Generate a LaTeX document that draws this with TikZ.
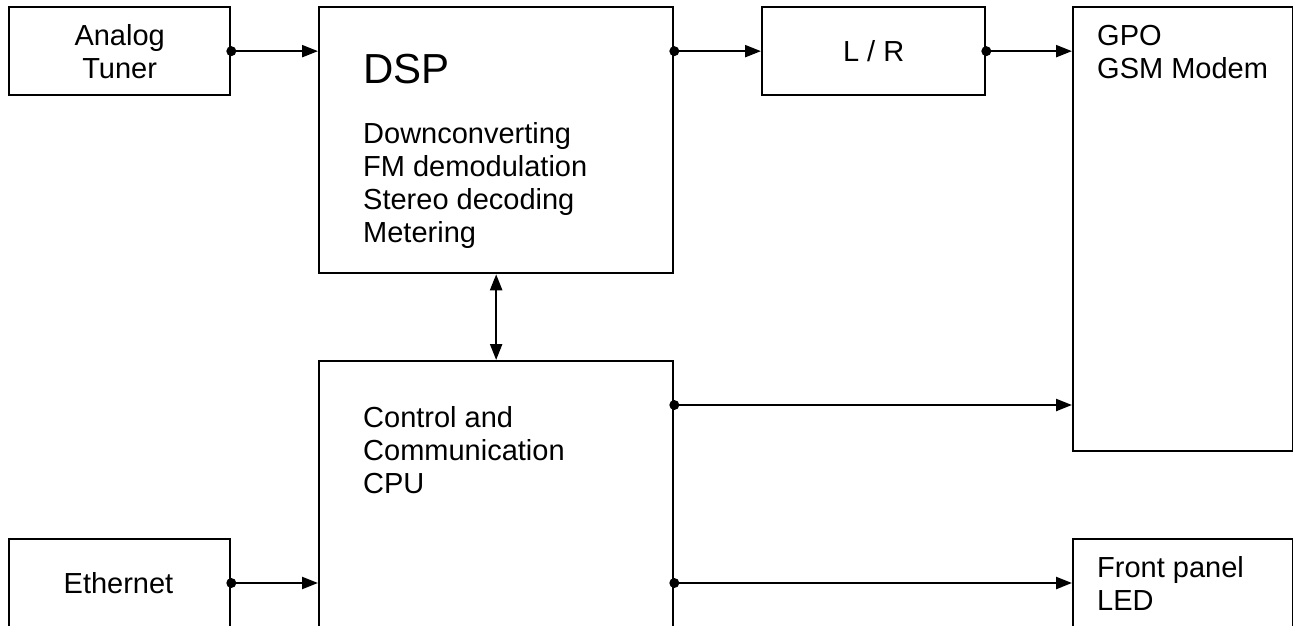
\documentclass[tikz,border=0pt]{standalone}
\usepackage{fontspec}
\setmainfont{Liberation Sans}
\usetikzlibrary{positioning,arrows.meta}
\tikzstyle{block} = [draw, rectangle, line width=2.3pt, inner sep=0pt, anchor=north west]
\tikzstyle{lbl} = [inner sep=0pt, align=left, font=\fontsize{29}{33}\selectfont]
\tikzstyle{conn} = [line width=2.3pt]

\begin{document}
\begin{tikzpicture}[x=1pt, y=-1pt, >={Triangle[length=16pt,width=12pt]}]
		\useasboundingbox (0,0) rectangle (1293,625);
		\clip (0,0) rectangle (1293,625);
		% blocks
		\node [block, minimum width=221pt, minimum height=88pt] (tuner) at (8,6) {};
		\node [block, minimum width=354pt, minimum height=266pt] (dsp) at (318,6) {};
		\node [block, minimum width=223pt, minimum height=88pt] (lr) at (761,6) {};
		\node [block, minimum width=220pt, minimum height=444pt] (gpo) at (1072,6) {};
		\node [block, minimum width=354pt, minimum height=320pt] (cpu) at (318,360) {};
		\node [block, minimum width=221pt, minimum height=120pt] (eth) at (8,538) {};
		\node [block, minimum width=220pt, minimum height=120pt] (front) at (1072,538) {};
		% texts (base = last line)
		\node [lbl, align=center] (tunertxt) at (tuner) {Analog\\Tuner};
		\node [lbl, anchor=base west, font=\fontsize{42}{48}\selectfont] (dsptitle) at (363,83) {DSP};
		\node [lbl, anchor=base west] (dsptxt) at (363,242) {Downconverting\\FM demodulation\\Stereo decoding\\Metering};
		\node [lbl] (lrtxt) at (lr) {L / R};
		\node [lbl, anchor=base west] (gpotxt) at (1097,78) {GPO\\GSM Modem};
		\node [lbl, anchor=base west] (cputxt) at (363,493) {Control and\\Communication\\CPU};
		\node [lbl] (ethtxt) at (118.5,583) {Ethernet};
		\node [lbl, anchor=base west] (fronttxt) at (1097,610) {Front panel\\LED};
		\coordinate (busA) at (0,405);

		\draw [conn, ->] (tuner.east) -- (tuner.east -| dsp.west);
		\draw [conn, ->] (dsp.east |- lr.west) -- (lr.west);
		\draw [conn, ->] (lr.east) -- (lr.east -| gpo.west);
		\draw [conn, <->] (dsp.south) -- (cpu.north);
		\draw [conn, ->] (cpu.east |- busA) -- (gpo.west |- busA);
		\draw [conn, ->] (eth.east |- ethtxt) -- (cpu.west |- ethtxt);
		\draw [conn, ->] (cpu.east |- ethtxt) -- (front.west |- ethtxt);
		% junction dots
		\fill (tuner.east) circle (5pt);
		\fill (dsp.east |- lr.west) circle (5pt);
		\fill (lr.east) circle (5pt);
		\fill (cpu.east |- busA) circle (5pt);
		\fill (eth.east |- ethtxt) circle (5pt);
		\fill (cpu.east |- ethtxt) circle (5pt);
	\end{tikzpicture}
\end{document}
